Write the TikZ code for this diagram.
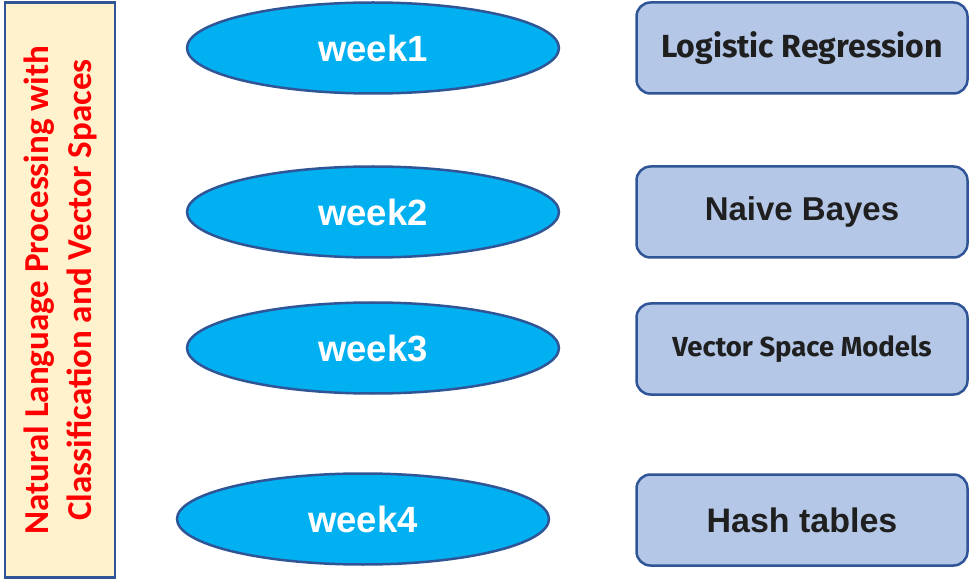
\documentclass[tikz,border=0pt]{standalone}
\usepackage{fontspec}
\setmainfont{Liberation Sans}
\newfontfamily\titlefont{Carlito}
\newfontfamily\topicfont{Fira Sans}
\usetikzlibrary{shapes.geometric,positioning}
\definecolor{weekblue}{HTML}{00B0F0}
\definecolor{edgeblue}{HTML}{2F5597}
\definecolor{topicfill}{HTML}{B4C7E7}
\definecolor{titlefill}{HTML}{FFF2CC}
\tikzset{
  week/.style={ellipse, draw=edgeblue, fill=weekblue, line width=2.5pt,
    minimum width=372pt, minimum height=91pt, inner sep=0pt,
    text=white, font=\fontsize{36.5}{40}\selectfont\bfseries},
  topic/.style={rectangle, rounded corners=14pt, draw=edgeblue, fill=topicfill,
    line width=2.5pt, minimum width=331pt, minimum height=91pt, inner sep=0pt,
    text=black!88},
}
\begin{document}
\begin{tikzpicture}[x=1pt,y=-1pt]
  \useasboundingbox (0,0) rectangle (970,580);
  \node (title) [draw=edgeblue, fill=titlefill, line width=2.5pt, rotate=90,
    minimum width=575pt, minimum height=110pt, inner sep=0pt, align=center,
    text=red, font=\titlefont\fontsize{35}{43}\selectfont\bfseries]
    at (60,290) {Natural Language Processing with\\Classification and Vector Spaces};
  \node (w1) [week] at (373,48) {week1};
  \node (w2) [week] at (373,212) {week2};
  \node (w3) [week] at (373,348) {week3};
  \node (w4) [week] at (363,519) {week4};
  \node (t1) [topic, font=\topicfont\fontsize{32}{34}\selectfont\bfseries] at (802,48) {Logistic Regression};
  \node (t2) [topic, font=\fontsize{33}{36}\selectfont\bfseries] at (802,212) {Naive Bayes};
  \node (t3) [topic, font=\topicfont\fontsize{27.5}{30}\selectfont\bfseries] at (802,349) {Vector Space Models};
  \node (t4) [topic, font=\fontsize{34}{36}\selectfont\bfseries] at (802,520) {Hash tables};
\end{tikzpicture}
\end{document}
